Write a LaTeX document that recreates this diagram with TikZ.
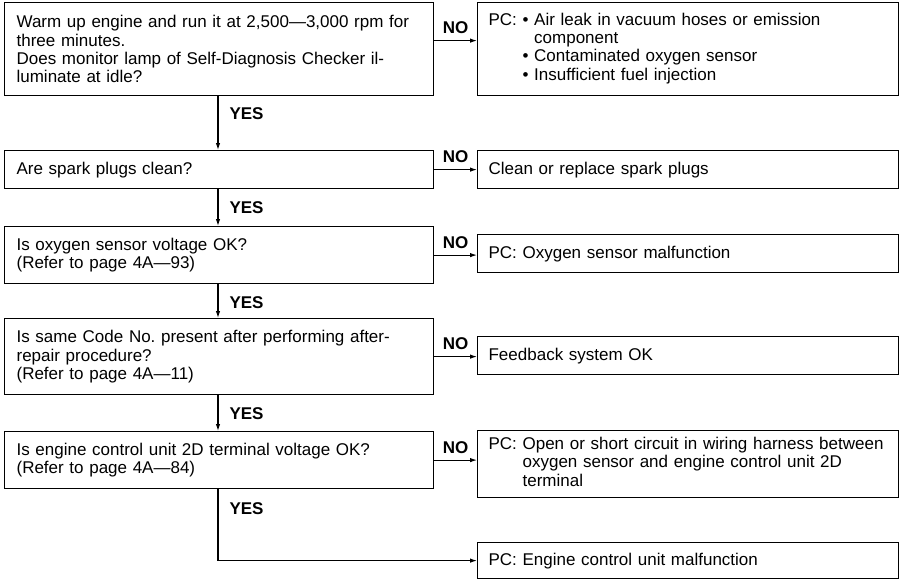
\documentclass[tikz,border=0pt]{standalone}
\usepackage{fontspec}
\setmainfont{Liberation Sans}
\usetikzlibrary{arrows.meta,calc}
\begin{document}
\begin{tikzpicture}[x=1pt,y=-1pt,
  txt/.style={font=\fontsize{17}{18.3}\selectfont},
  lbox/.style={draw, line width=1.2pt, anchor=north west, inner xsep=12pt, inner ysep=2pt, text width=405pt, align=left, txt},
  rbox/.style={draw, line width=1.2pt, anchor=north west, inner xsep=11pt, inner ysep=2pt, text width=399pt, align=left, txt},
  arr/.style={line width=1.1pt, -{Latex[length=7pt,width=4.5pt]}},
  yes/.style={anchor=west, xshift=11pt, inner sep=0pt, font=\fontsize{17}{18.3}\selectfont\bfseries},
  no/.style={midway, anchor=south, yshift=6pt, inner sep=0pt, font=\fontsize{17}{18.3}\selectfont\bfseries}
]
\useasboundingbox (0,0) rectangle (909,579);
\coordinate (spine) at (218,0);

% left column
\node[lbox, minimum height=93pt] (b1) at (4,2) {Warm up engine and run it at 2,500—3,000 rpm for\\three minutes.\\Does monitor lamp of Self-Diagnosis Checker il-\\luminate at idle?};
\node[lbox, minimum height=38pt] (b2) at (4,150) {Are spark plugs clean?};
\node[lbox, minimum height=57pt] (b3) at (4,226) {Is oxygen sensor voltage OK?\\(Refer to page 4A—93)};
\node[lbox, minimum height=76pt] (b4) at (4,318) {Is same Code No.\ present after performing after-\\repair procedure?\\(Refer to page 4A—11)};
\node[lbox, minimum height=57pt] (b5) at (4,431) {Is engine control unit 2D terminal voltage OK?\\(Refer to page 4A—84)};

% right column
\node[rbox, minimum height=93pt] (r1) at (477,2) {PC: \begin{tabular}[t]{@{}l@{}}• Air leak in vacuum hoses or emission\\\hphantom{• }component\\• Contaminated oxygen sensor\\• Insufficient fuel injection\end{tabular}};
\node[rbox, minimum height=38pt] (r2) at (477,150) {Clean or replace spark plugs};
\node[rbox, minimum height=38pt] (r3) at (477,234) {PC: Oxygen sensor malfunction};
\node[rbox, minimum height=38pt] (r4) at (477,336) {Feedback system OK};
\node[rbox, minimum height=67pt] (r5) at (477,430) {PC: \begin{tabular}[t]{@{}l@{}}Open or short circuit in wiring harness between\\oxygen sensor and engine control unit 2D\\terminal\end{tabular}};
\node[rbox, minimum height=36pt] (r6) at (477,542) {PC: Engine control unit malfunction};

% YES connectors
\draw[arr] (b1.south -| spine) -- node[yes, pos=0.33]{YES} (b2.north -| spine);
\draw[arr] (b2.south -| spine) -- node[yes, pos=0.51]{YES} (b3.north -| spine);
\draw[arr] (b3.south -| spine) -- node[yes, pos=0.54]{YES} (b4.north -| spine);
\draw[arr] (b4.south -| spine) -- node[yes, pos=0.51]{YES} (b5.north -| spine);
\draw[arr] (b5.south -| spine) |- node[yes, pos=0.135]{YES} (r6.west);

% NO connectors
\draw[arr] ([yshift=8.5pt]b1.east) -- node[no]{NO} ([yshift=8.5pt]b1.east -| r1.west);
\draw[arr] (b2.east) -- node[no]{NO} (b2.east -| r2.west);
\draw[arr] (b3.east) -- node[no]{NO} (b3.east -| r3.west);
\draw[arr] (b4.east) -- node[no]{NO} (b4.east -| r4.west);
\draw[arr] (b5.east) -- node[no]{NO} (b5.east -| r5.west);
\end{tikzpicture}
\end{document}
